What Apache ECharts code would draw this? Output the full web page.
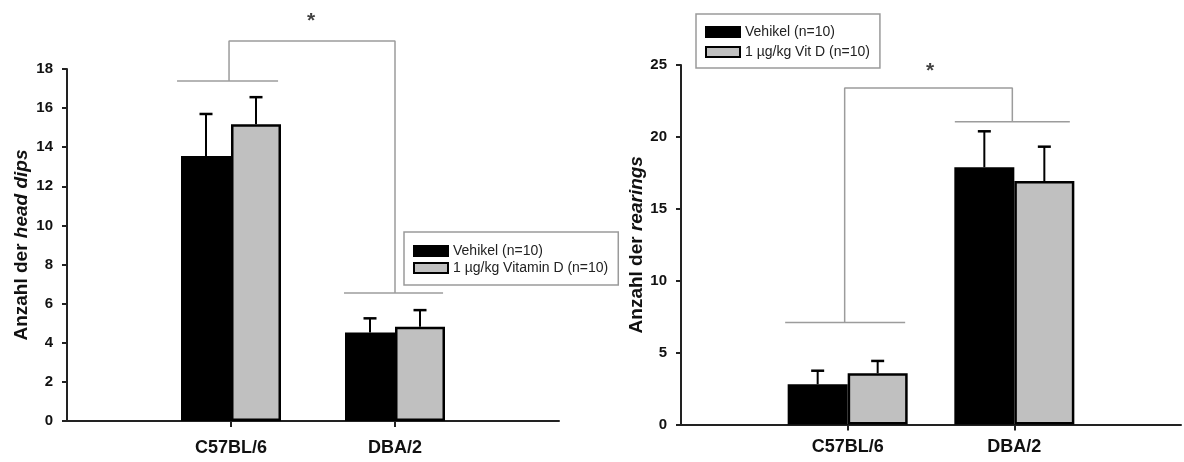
<!DOCTYPE html>
<html>
<head>
<meta charset="utf-8">
<script src="https://cdn.jsdelivr.net/npm/echarts@6/dist/echarts.min.js"></script>
<style>
html,body{margin:0;padding:0;background:#fff;}
#c{width:1184px;height:462px;}
</style>
</head>
<body>
<div id="c"></div>
<script>
// ---- data ----
const categories = ['', 'C57BL/6', 'DBA/2', ''];

// left chart: head dips
const leftNames = ['Vehikel (n=10)', '1 µg/kg Vitamin D (n=10)'];
const leftVehikel = ['-', 13.55, 4.53, '-'];
const leftVitD = ['-', 15.18, 4.82, '-'];
const leftVehikelErrTop = [null, 15.7, 5.25, null];
const leftVitDErrTop = [null, 16.56, 5.67, null];
const leftYMax = 18, leftYStep = 2;
// significance bracket (x in category units 0..3, y in data units)
const leftBracket = [[0.988, 17.38], [0.988, 19.43], [2.0, 19.43], [2.0, 6.54]];
const leftBarLine1 = [[0.671, 17.38], [1.287, 17.38]];
const leftBarLine2 = [[1.689, 6.54], [2.293, 6.54]];
const leftStar = [[1.488, 20.45]];

// right chart: rearings
const rightNames = ['Vehikel (n=10)', '1 µg/kg Vit D (n=10)'];
const rightVehikel = ['-', 2.80, 17.89, '-'];
const rightVitD = ['-', 3.56, 16.93, '-'];
const rightVehikelErrTop = [null, 3.74, 20.39, null];
const rightVitDErrTop = [null, 4.42, 19.32, null];
const rightYMax = 25, rightYStep = 5;
const rightBracket = [[0.982, 7.1], [0.982, 23.4], [1.988, 23.4], [1.988, 21.06]];
const rightBarLine1 = [[0.625, 7.1], [1.345, 7.1]];
const rightBarLine2 = [[1.643, 21.06], [2.333, 21.06]];
const rightStar = [[1.494, 24.56]];

// ---- helpers ----
const FONT = '"Liberation Sans", Arial, sans-serif';
const BLACK = '#000000';
const GRAY = '#c0c0c0';
const BRACKET = '#9c9c9c';

function errData(vals, tops) {
  const out = [];
  for (let i = 0; i < vals.length; i++) {
    if (tops[i] != null) out.push([i, vals[i], tops[i]]);
  }
  return out;
}
function errSeries(vals, tops, xi, yi, off) {
  return {
    type: 'custom', xAxisIndex: xi, yAxisIndex: yi, silent: true, z: 5,
    data: errData(vals, tops),
    encode: { x: 0, y: [1, 2] },
    renderItem: function (params, api) {
      const base = api.coord([api.value(0), api.value(1)]);
      const top = api.coord([api.value(0), api.value(2)]);
      const cx = base[0] + off;
      return {
        type: 'group',
        children: [
          { type: 'line', shape: { x1: cx, y1: base[1], x2: cx, y2: top[1] }, style: { stroke: BLACK, lineWidth: 2 } },
          { type: 'line', shape: { x1: cx - 6.5, y1: top[1], x2: cx + 6.5, y2: top[1] }, style: { stroke: BLACK, lineWidth: 2.5 } }
        ]
      };
    }
  };
}
function lineSeries(data, xi, yi) {
  return {
    type: 'line', xAxisIndex: xi, yAxisIndex: yi, data: data, symbol: 'none',
    clip: false, silent: true, animation: false, z: 1,
    lineStyle: { color: BRACKET, width: 1.5 }
  };
}
function starSeries(data, xi, yi) {
  return {
    type: 'scatter', xAxisIndex: xi, yAxisIndex: yi, data: data, symbolSize: 0,
    clip: false, silent: true,
    label: { show: true, position: 'inside', formatter: '*', fontSize: 21, fontWeight: 'bold', color: '#111', fontFamily: FONT }
  };
}
function barSeries(name, data, xi, yi, color, w) {
  return {
    name: name, type: 'bar', xAxisIndex: xi, yAxisIndex: yi, data: data,
    barWidth: w, barGap: '0%', z: 3,
    itemStyle: { color: color, borderColor: BLACK, borderWidth: 2.5 }
  };
}
function catAxis(gi) {
  return {
    type: 'category', gridIndex: gi, data: categories, boundaryGap: false,
    axisLine: { show: true, lineStyle: { color: '#222', width: 2 } },
    axisTick: { show: true, length: 6, interval: function (i) { return i === 1 || i === 2; }, lineStyle: { color: '#222', width: 2 } },
    axisLabel: { interval: 0, margin: gi === 0 ? 18 : 14, fontSize: 18, fontWeight: 'bold', color: '#111', fontFamily: FONT },
    splitLine: { show: false }
  };
}
function hiddenX(gi) {
  return { type: 'value', gridIndex: gi, min: 0, max: 3, show: false };
}
function yAxis(gi, max, step, nameRich, gap) {
  return {
    type: 'value', gridIndex: gi, min: 0, max: max, interval: step,
    name: nameRich, nameLocation: 'middle', nameGap: gap,
    nameTextStyle: {
      fontFamily: FONT, color: '#111',
      rich: {
        a: { fontSize: 19, fontWeight: 'bold', fontFamily: FONT, color: '#111' },
        b: { fontSize: 19, fontWeight: 'bold', fontStyle: 'italic', fontFamily: FONT, color: '#111' }
      }
    },
    axisLine: { show: true, lineStyle: { color: '#222', width: 2 } },
    axisTick: { show: true, length: 5, lineStyle: { color: '#222', width: 2 } },
    axisLabel: { margin: 14, fontSize: 15, fontWeight: 'bold', color: '#111', fontFamily: FONT },
    splitLine: { show: false }
  };
}
function legend(names, left, top, pad, gap) {
  return {
    data: names, orient: 'vertical', left: left, top: top, padding: pad, itemGap: gap,
    itemWidth: 34, itemHeight: 10, icon: 'rect',
    borderColor: '#9a9a9a', borderWidth: 1.5, backgroundColor: '#fff',
    selectedMode: false,
    itemStyle: { borderColor: BLACK, borderWidth: 2 },
    textStyle: { fontSize: 14, lineHeight: 14, color: '#222', fontFamily: FONT }
  };
}

const option = {
  animation: false,
  backgroundColor: '#ffffff',
  textStyle: { fontFamily: FONT },
  grid: [
    { left: 67, top: 69, width: 492, height: 352 },
    { left: 681, top: 65, width: 504, height: 359.5 }
  ],
  legend: [
    legend(leftNames, 404, 232, [12, 10, 10, 9], 3),
    legend(rightNames, 696, 14, [11, 10, 9, 9], 6)
  ],
  xAxis: [catAxis(0), hiddenX(0), catAxis(1), hiddenX(1)],
  yAxis: [
    yAxis(0, leftYMax, leftYStep, '{a|Anzahl der }{b|head dips}', 36),
    yAxis(1, rightYMax, rightYStep, '{a|Anzahl der }{b|rearings}', 34)
  ],
  series: [
    barSeries(leftNames[0], leftVehikel, 0, 0, BLACK, 50),
    barSeries(leftNames[1], leftVitD, 0, 0, GRAY, 50),
    errSeries(leftVehikel, leftVehikelErrTop, 0, 0, -25),
    errSeries(leftVitD, leftVitDErrTop, 0, 0, 25),
    lineSeries(leftBracket, 1, 0),
    lineSeries(leftBarLine1, 1, 0),
    lineSeries(leftBarLine2, 1, 0),
    starSeries(leftStar, 1, 0),

    barSeries(rightNames[0], rightVehikel, 2, 1, BLACK, 60),
    barSeries(rightNames[1], rightVitD, 2, 1, GRAY, 60),
    errSeries(rightVehikel, rightVehikelErrTop, 2, 1, -30),
    errSeries(rightVitD, rightVitDErrTop, 2, 1, 30),
    lineSeries(rightBracket, 3, 1),
    lineSeries(rightBarLine1, 3, 1),
    lineSeries(rightBarLine2, 3, 1),
    starSeries(rightStar, 3, 1)
  ]
};

const chart = echarts.init(document.getElementById('c'), null, { renderer: 'canvas' });
chart.setOption(option);
</script>
</body>
</html>
